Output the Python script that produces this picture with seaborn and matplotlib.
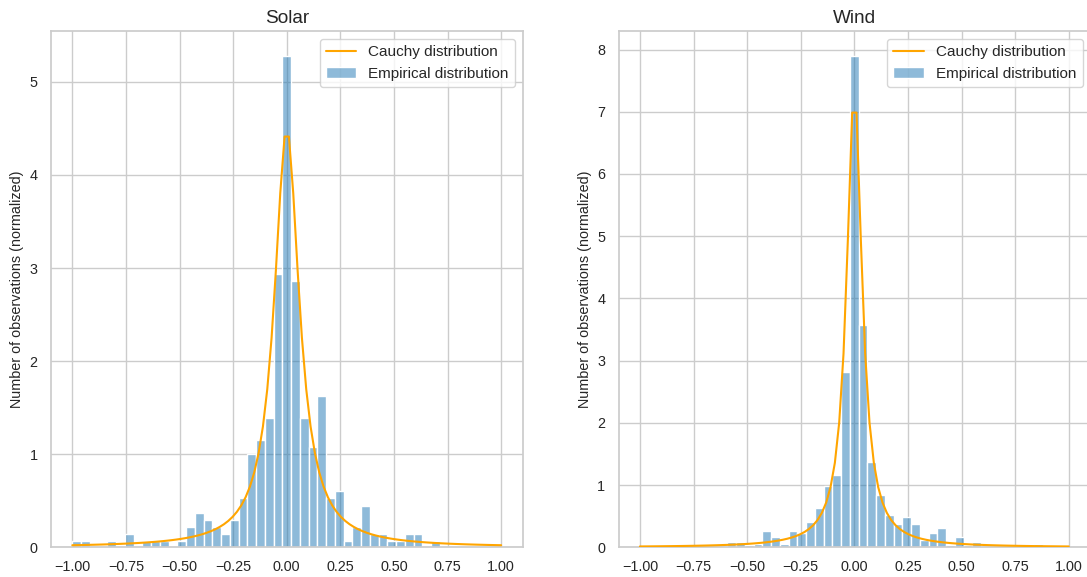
import numpy as np
import pandas as pd
import matplotlib
matplotlib.use("Agg")
import matplotlib.pyplot as plt
import seaborn as sns

# Histogram bins shared by both panels: 49 equal bins on [-1, 1]
n_bins = 49
bin_range = (-1.0, 1.0)

# Normalized empirical densities per bin
solar_density = [
    0.072, 0.072, 0.0, 0.0, 0.072, 0.0, 0.143, 0.0, 0.072, 0.072,
    0.072, 0.0, 0.072, 0.215, 0.370, 0.295, 0.215, 0.143, 0.295, 0.530,
    1.000, 1.150, 1.385, 2.940, 5.280, 2.860, 1.385, 1.075, 1.620, 0.530,
    0.605, 0.072, 0.215, 0.445, 0.143, 0.143, 0.072, 0.072, 0.143, 0.143,
    0.0, 0.072, 0.0, 0.0, 0.0, 0.0, 0.0, 0.0, 0.0,
]
wind_density = [
    0.0, 0.0, 0.0, 0.0, 0.0, 0.0, 0.0, 0.0, 0.0, 0.0,
    0.085, 0.085, 0.045, 0.050, 0.268, 0.160, 0.050, 0.268, 0.230, 0.410,
    0.630, 0.990, 1.170, 2.817, 7.900, 3.573, 1.379, 0.848, 0.526, 0.381,
    0.485, 0.378, 0.118, 0.228, 0.303, 0.030, 0.160, 0.040, 0.088, 0.0,
    0.0, 0.0, 0.0, 0.0, 0.0, 0.050, 0.0, 0.0, 0.0,
]

# Fitted Cauchy parameters (location, scale)
solar_loc, solar_scale = 0.0, 0.0707
wind_loc, wind_scale = 0.0, 0.0432

panel_titles = ["Solar", "Wind"]
y_label = "Number of observations (normalized)"
curve_x = np.linspace(-1.0, 1.0, 100)


def cauchy_pdf(x, loc, scale):
    z = (x - loc) / scale
    return 1.0 / (np.pi * scale * (1.0 + z ** 2))


sns.set_theme(style="whitegrid")
plt.rcParams["font.family"] = ["Liberation Sans", "DejaVu Sans"]

fig = plt.figure(figsize=(10.87, 5.77), dpi=100)
W, H = 1087.0, 577.0
ax_left = fig.add_axes([50.9 / W, (H - 547.3) / H, 471.7 / W, 516.1 / H])
ax_right = fig.add_axes([618.5 / W, (H - 547.3) / H, 471.7 / W, 516.1 / H])

edges = np.linspace(bin_range[0], bin_range[1], n_bins + 1)
centers = 0.5 * (edges[:-1] + edges[1:])
panels = [
    (ax_left, solar_density, solar_loc, solar_scale),
    (ax_right, wind_density, wind_loc, wind_scale),
]

for (ax, density, loc, scale), title in zip(panels, panel_titles):
    hist_df = pd.DataFrame({"value": centers, "density": density})
    sns.histplot(
        data=hist_df, x="value", weights="density", bins=n_bins,
        binrange=bin_range, stat="count", color="tab:blue", alpha=0.5,
        edgecolor="white", linewidth=1.0, label="Empirical distribution",
        ax=ax,
    )
    curve_df = pd.DataFrame({"x": curve_x, "pdf": cauchy_pdf(curve_x, loc, scale)})
    sns.lineplot(
        data=curve_df, x="x", y="pdf", color="orange", linewidth=1.5,
        label="Cauchy distribution", ax=ax, zorder=3,
    )
    ax.set_title(title, fontsize=13.7)
    ax.set_xlabel("")
    ax.set_ylabel(y_label, fontsize=10.4)
    ax.set_xticks([-1.0, -0.75, -0.5, -0.25, 0.0, 0.25, 0.5, 0.75, 1.0])
    ax.tick_params(axis="both", labelsize=10.4)
    ax.legend(loc="upper right", fontsize=11)

fig.savefig("out.png", dpi=100)
